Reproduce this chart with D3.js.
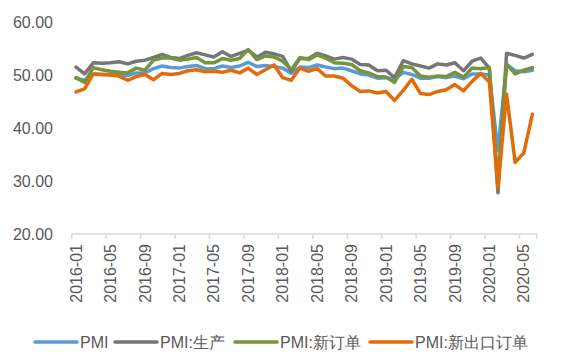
<!DOCTYPE html>
<html><head><meta charset="utf-8">
<script src="https://cdn.jsdelivr.net/npm/d3@7/dist/d3.min.js"></script>
<style>
html,body{margin:0;padding:0;background:#fff;}
svg{display:block;font-family:"Liberation Sans",Arial,sans-serif;}
</style></head>
<body><svg id="c" width="561" height="364"></svg>
<script>
const months = [];
for (let y = 2016; y <= 2020; y++) for (let m = 1; m <= 12; m++) { if (y === 2020 && m > 6) break; months.push(y + "-" + String(m).padStart(2, "0")); }

const pmi = [49.4,49.0,50.2,50.1,50.1,50.0,49.9,50.4,50.4,51.2,51.7,51.4,
  51.3,51.6,51.8,51.2,51.2,51.7,51.4,51.7,52.4,51.6,51.8,51.6,
  51.3,50.3,51.5,51.4,51.9,51.5,51.2,51.3,50.8,50.2,50.0,49.4,
  49.5,49.2,50.5,50.1,49.4,49.4,49.7,49.5,49.8,49.3,50.2,50.2,
  50.0,35.7,52.0,50.8,50.6,50.9];
const production = [51.5,50.2,52.3,52.2,52.3,52.5,52.1,52.6,52.8,53.3,53.9,53.3,
  53.1,53.7,54.2,53.8,53.4,54.4,53.5,54.1,54.7,53.4,54.3,54.0,
  53.5,50.7,53.1,53.1,54.1,53.6,53.0,53.3,53.0,52.0,51.9,50.8,
  50.9,49.5,52.7,52.1,51.7,51.3,52.1,51.9,52.3,50.8,52.6,53.2,
  51.3,27.8,54.1,53.7,53.2,53.9];
const newOrders = [49.5,48.6,51.4,51.0,50.7,50.5,50.4,51.3,50.9,52.8,53.2,53.2,
  52.8,53.0,53.3,52.3,52.3,53.1,52.8,53.1,54.8,52.9,53.6,53.4,
  52.6,51.0,53.3,52.9,53.8,53.2,52.3,52.2,52.0,50.8,50.4,49.7,
  49.6,48.6,51.6,51.4,49.8,49.6,49.8,49.7,50.5,49.6,51.3,51.2,
  51.4,29.3,52.0,50.2,50.9,51.4];
const exportOrders = [46.8,47.4,50.2,50.1,50.0,49.8,49.0,49.7,50.1,49.1,50.3,50.1,
  50.3,50.8,51.0,50.6,50.7,50.5,50.9,50.4,51.3,50.1,51.0,51.9,
  49.5,49.0,51.3,50.7,51.2,49.8,49.8,49.4,48.0,46.9,47.0,46.6,
  46.9,45.2,47.1,49.2,46.5,46.3,46.9,47.2,48.2,47.0,48.8,50.3,
  48.7,28.7,46.4,33.5,35.3,42.6];
const yTicks = [20, 30, 40, 50, 60];
const seriesNames = ["PMI", "PMI:生产", "PMI:新订单", "PMI:新出口订单"];
const seriesValues = [pmi, production, newOrders, exportOrders];
const colors = ["#5B9BD5", "#767676", "#77933C", "#E36C09"];

const svg = d3.select("#c");
const L = 71.7, R = 536.7, T = 22, B = 234;
const x = d3.scaleBand().domain(months).range([L, R]).padding(0);
const y = d3.scaleLinear().domain([20, 60]).range([B, T]);

// y labels
svg.append("g").selectAll("text").data(yTicks).join("text")
  .attr("x", 53).attr("y", d => y(d)).attr("dy", "0.35em")
  .attr("text-anchor", "end").attr("font-size", 16).attr("fill", "#595959")
  .text(d => d.toFixed(2));

// x axis line
svg.append("line").attr("x1", L).attr("x2", R).attr("y1", B).attr("y2", B)
  .attr("stroke", "#D9D9D9").attr("stroke-width", 1.5);
// ticks at boundaries every 4
const tickIdx = d3.range(0, months.length + 1, 4);
svg.append("g").selectAll("line").data(tickIdx).join("line")
  .attr("x1", i => L + i * x.bandwidth()).attr("x2", i => L + i * x.bandwidth())
  .attr("y1", B).attr("y2", B + 5).attr("stroke", "#D9D9D9").attr("stroke-width", 1.5);
svg.append("line").attr("x1", R).attr("x2", R).attr("y1", B).attr("y2", B + 5)
  .attr("stroke", "#D9D9D9").attr("stroke-width", 1.5);

// x labels
const labelMonths = months.filter((d, i) => i % 4 === 0);
svg.append("g").selectAll("text").data(labelMonths).join("text")
  .attr("transform", d => `translate(${x(d) + x.bandwidth() / 2},244) rotate(-90)`)
  .attr("text-anchor", "end").attr("dy", "0.35em")
  .attr("font-size", 16).attr("fill", "#595959").text(d => d);

// lines
const line = d3.line().x((d, i) => x(months[i]) + x.bandwidth() / 2).y(d => y(d));
seriesValues.forEach((vals, k) => {
  svg.append("path").datum(vals).attr("d", line)
    .attr("fill", "none").attr("stroke", colors[k]).attr("stroke-width", 3.5)
    .attr("stroke-linejoin", "round").attr("stroke-linecap", "round");
});

// legend
const legX = [35, 115, 235, 370];
const lg = svg.append("g");
seriesNames.forEach((n, k) => {
  lg.append("line").attr("x1", legX[k]).attr("x2", legX[k] + 42)
    .attr("y1", 342).attr("y2", 342).attr("stroke", colors[k]).attr("stroke-width", 3.5)
    .attr("stroke-linecap", "round");
  lg.append("text").attr("x", legX[k] + 45).attr("y", 342).attr("dy", "0.35em")
    .attr("font-size", 16).attr("fill", "#595959").text(n);
});
</script></body></html>
